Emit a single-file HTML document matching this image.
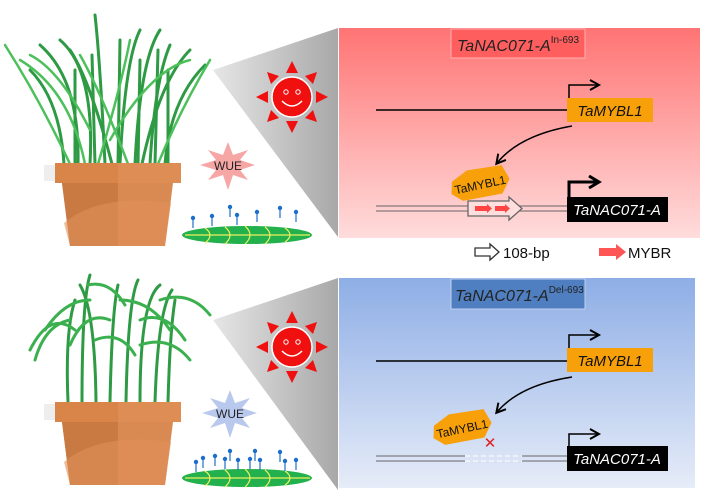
<!DOCTYPE html>
<html><head><meta charset="utf-8"><style>
html,body{margin:0;padding:0;background:#fff;width:705px;height:502px;overflow:hidden}
svg{display:block;font-family:"Liberation Sans",Arial,sans-serif}
</style></head><body>
<svg width="705" height="502" viewBox="0 0 705 502">
<defs>
<linearGradient id="gr" x1="0" y1="0" x2="0" y2="1"><stop offset="0" stop-color="#ff7474"/><stop offset="1" stop-color="#ffdcdc"/></linearGradient>
<linearGradient id="gb" x1="0" y1="0" x2="0" y2="1"><stop offset="0" stop-color="#8eaee6"/><stop offset="1" stop-color="#e6ecf8"/></linearGradient>
<linearGradient id="gt" x1="0" y1="0" x2="1" y2="0"><stop offset="0" stop-color="#e6e6e6"/><stop offset="1" stop-color="#a8a8a8"/></linearGradient>
<marker id="ah" markerUnits="userSpaceOnUse" markerWidth="14" markerHeight="14" refX="9" refY="6" orient="auto"><path d="M1,1 L10,6 L1,11" fill="none" stroke="#000" stroke-width="2"/></marker>
<marker id="ah2" markerUnits="userSpaceOnUse" markerWidth="16" markerHeight="16" refX="10" refY="7" orient="auto"><path d="M1,1 L11,7 L1,13" fill="none" stroke="#000" stroke-width="3"/></marker>
<g id="sun">
<g fill="#f01010">
<polygon points="0,-36 -6,-24 6,-24"/><polygon points="0,36 -6,24 6,24"/><polygon points="-36,0 -24,-6 -24,6"/><polygon points="36,0 24,-6 24,6"/>
<polygon points="-25,-25 -21,-13 -13,-21"/><polygon points="25,-25 21,-13 13,-21"/><polygon points="-25,25 -21,13 -13,21"/><polygon points="25,25 21,13 13,21"/>
</g>
<circle r="20" fill="#f01010" stroke="#fff" stroke-width="1.5"/>
<circle cx="-6" cy="-5" r="2.2" fill="none" stroke="#fff" stroke-width="1"/><circle cx="6" cy="-5" r="2.2" fill="none" stroke="#fff" stroke-width="1"/>
<path d="M-10,4 Q0,14 10,4" fill="none" stroke="#fff" stroke-width="1.5"/>
</g>
<g id="pot">
<rect x="44" y="2" width="14" height="16" fill="#ddd" opacity="0.5"/>
<polygon points="62,20 173,20 165,83 70,83" fill="#d98a52"/>
<polygon points="62,20 118,20 118,83 70,83" fill="#c97a42"/>
<path d="M64,60 Q100,30 171,40 L165,83 L70,83 Z" fill="#e09058" opacity="0.6"/>
<rect x="55" y="0" width="126" height="20" fill="#d9854a"/>
<rect x="118" y="0" width="63" height="20" fill="#de8d55"/>
</g>
<g id="leafbase">
<ellipse cx="247" cy="0" rx="65" ry="9" fill="#22b14c"/>
<g fill="none" stroke="#f0f060" stroke-width="1.2">
<line x1="185" y1="0" x2="310" y2="0"/>
<path d="M205,-7 Q215,0 205,8"/><path d="M225,-8 Q235,0 225,9"/><path d="M245,-9 Q255,0 245,9"/><path d="M265,-8 Q275,0 265,9"/><path d="M285,-7 Q295,0 285,7"/>
</g>
</g>
<g id="stoma"><line x1="0" y1="0" x2="0" y2="10" stroke="#1b6fc9" stroke-width="1.2"/><circle r="2.2" fill="#1b6fc9"/></g>
</defs>

<!-- top -->
<polygon points="213,70 338,28 338,237" fill="url(#gt)"/>
<rect x="339" y="28" width="361" height="210" fill="url(#gr)"/>
<rect x="451" y="29" width="134" height="29" fill="#ff5e5e" stroke="#ffb0b0"/>
<text x="457" y="51" font-size="16" font-style="italic" fill="#222">TaNAC071-A<tspan font-size="10" dy="-8" font-style="normal">In-693</tspan></text>
<use href="#sun" x="292" y="97"/>
<g fill="none" stroke-linecap="round">
<g stroke="#2e9a44" stroke-width="3">
<path d="M64,164 Q60,100 30,70"/><path d="M78,164 Q80,80 40,45"/><path d="M90,164 Q95,70 60,40"/><path d="M105,164 Q100,60 95,15"/><path d="M120,164 Q125,60 140,30"/><path d="M135,164 Q140,60 160,30"/><path d="M150,164 Q155,80 170,45"/><path d="M165,164 Q170,100 205,65"/><path d="M112,164 Q90,80 70,50"/><path d="M142,164 Q160,80 190,50"/>
<path d="M75,164 L75,70"/><path d="M95,164 L92,55"/><path d="M118,164 L120,40"/><path d="M138,164 L140,60"/><path d="M155,164 L158,50"/><path d="M168,164 L168,70"/>
</g>
<g stroke="#4cc05a" stroke-width="2.5">
<path d="M70,164 Q40,100 5,45"/><path d="M98,164 Q120,90 130,40"/><path d="M128,164 Q100,90 80,55"/><path d="M158,164 Q180,110 210,60"/><path d="M85,164 Q70,90 20,60"/><path d="M110,140 Q150,70 190,60"/><path d="M90,130 Q60,70 30,55"/>
</g>
</g>
<use href="#pot" x="0" y="163"/>
<polygon points="228,142 233,155 248,150 240,160 255,165 240,170 248,180 233,175 228,190 223,175 208,180 216,170 200,165 216,160 208,150 223,155" fill="#f7a6a6"/>
<text x="228" y="170" font-size="12" text-anchor="middle" fill="#222">WUE</text>
<use href="#leafbase" x="0" y="235"/>
<g>
<use href="#stoma" x="193" y="218"/><use href="#stoma" x="212" y="216"/><use href="#stoma" x="230" y="207"/><use href="#stoma" x="237" y="215"/><use href="#stoma" x="257" y="212"/><use href="#stoma" x="280" y="208"/><use href="#stoma" x="296" y="212"/>
</g>
<line x1="376" y1="110" x2="567" y2="110" stroke="#000" stroke-width="1.5"/>
<rect x="567" y="98" width="86" height="24" fill="#f7a00a"/>
<text x="610" y="116" font-size="15" font-style="italic" text-anchor="middle" fill="#111">TaMYBL1</text>
<path d="M569,98 V85 H598" fill="none" stroke="#000" stroke-width="1.5" marker-end="url(#ah)"/>
<path d="M572,126 Q520,135 497,163" fill="none" stroke="#000" stroke-width="1.5" marker-end="url(#ah)"/>
<line x1="376" y1="206" x2="567" y2="206" stroke="#666" stroke-width="1"/>
<line x1="376" y1="211" x2="567" y2="211" stroke="#666" stroke-width="1"/>
<polygon points="468,201 509,201 509,197 522,208.5 509,220 509,216 468,216" fill="#ffdede" stroke="#666" stroke-width="1.3"/>
<polygon points="475,206 487,206 487,204 492,208.5 487,213 487,211 475,211" fill="#f44"/>
<polygon points="495,206 505,206 505,204 510,208.5 505,213 505,211 495,211" fill="#f44"/>
<g transform="rotate(-12 480 184)">
<polygon points="453,176 470,168 505,170 510,185 500,198 460,197 450,188" fill="#f7a00a"/>
<text x="480" y="189" font-size="12" text-anchor="middle" fill="#111">TaMYBL1</text>
</g>
<rect x="567" y="197" width="101" height="25" fill="#000"/>
<text x="617" y="215" font-size="15" font-style="italic" text-anchor="middle" fill="#fff">TaNAC071-A</text>
<path d="M569,197 V182 H598" fill="none" stroke="#000" stroke-width="3" marker-end="url(#ah2)"/>
<polygon points="475,248 490,248 490,244 499,252 490,260 490,256 475,256" fill="#fff" stroke="#333" stroke-width="1.3"/>
<text x="503" y="258" font-size="15" fill="#111">108-bp</text>
<polygon points="599,248 616,248 616,244 626,252 616,260 616,256 599,256" fill="#f55"/>
<text x="628" y="258" font-size="15" fill="#111">MYBR</text>

<!-- bottom -->
<polygon points="213,320 338,278 338,490" fill="url(#gt)"/>
<rect x="339" y="278" width="356" height="210" fill="url(#gb)"/>
<rect x="451" y="279" width="134" height="30" fill="#4f7fc0" stroke="#c0d0ee"/>
<text x="455" y="301" font-size="16" font-style="italic" fill="#222">TaNAC071-A<tspan font-size="10" dy="-8" font-style="normal">Del-693</tspan></text>
<use href="#sun" x="292" y="347"/>
<g fill="none" stroke-linecap="round">
<g stroke="#2e9a44" stroke-width="3">
<path d="M68,402 Q65,330 75,300"/><path d="M82,402 Q82,300 90,275"/><path d="M96,402 Q95,310 80,285"/><path d="M110,402 Q112,310 118,285"/><path d="M126,402 Q128,300 138,280"/><path d="M140,402 Q140,300 160,285"/><path d="M155,402 Q158,310 172,290"/><path d="M168,402 Q170,330 175,300"/>
</g>
<g stroke="#3bb04e" stroke-width="3">
<path d="M75,330 Q50,310 30,350"/><path d="M90,300 Q65,300 45,330"/><path d="M110,320 Q85,310 70,345"/><path d="M120,300 Q150,300 170,330"/><path d="M140,320 Q165,310 185,340"/><path d="M160,300 Q190,290 210,315"/><path d="M95,340 Q120,330 135,355"/><path d="M140,345 Q170,335 190,360"/><path d="M88,285 Q110,280 125,305"/><path d="M70,320 Q45,325 35,360"/>
</g>
</g>
<use href="#pot" x="0" y="402"/>
<polygon points="230,390 235,403 250,398 242,408 257,413 242,418 250,428 235,423 230,438 225,423 210,428 218,418 202,413 218,408 210,398 225,403" fill="#b9c9ee"/>
<text x="230" y="418" font-size="12" text-anchor="middle" fill="#222">WUE</text>
<use href="#leafbase" x="0" y="478"/>
<g>
<use href="#stoma" x="196" y="462"/><use href="#stoma" x="203" y="458"/><use href="#stoma" x="215" y="456"/><use href="#stoma" x="225" y="459"/><use href="#stoma" x="230" y="451"/><use href="#stoma" x="238" y="460"/><use href="#stoma" x="250" y="459"/><use href="#stoma" x="255" y="451"/><use href="#stoma" x="260" y="460"/><use href="#stoma" x="280" y="452"/><use href="#stoma" x="285" y="461"/><use href="#stoma" x="296" y="460"/>
</g>
<line x1="376" y1="361" x2="567" y2="361" stroke="#000" stroke-width="1.5"/>
<rect x="567" y="348" width="86" height="24" fill="#f7a00a"/>
<text x="610" y="366" font-size="15" font-style="italic" text-anchor="middle" fill="#111">TaMYBL1</text>
<path d="M569,348 V335 H598" fill="none" stroke="#000" stroke-width="1.5" marker-end="url(#ah)"/>
<path d="M572,377 Q520,385 497,412" fill="none" stroke="#000" stroke-width="1.5" marker-end="url(#ah)"/>
<g stroke="#666" stroke-width="1">
<line x1="376" y1="456" x2="465" y2="456"/><line x1="376" y1="461" x2="465" y2="461"/>
<line x1="465" y1="456" x2="522" y2="456" stroke="#fff" stroke-dasharray="5,3"/><line x1="465" y1="461" x2="522" y2="461" stroke="#fff" stroke-dasharray="5,3"/>
<line x1="522" y1="456" x2="567" y2="456"/><line x1="522" y1="461" x2="567" y2="461"/>
</g>
<g transform="rotate(-12 462 428)">
<polygon points="435,420 452,412 487,414 492,429 482,442 442,441 432,432" fill="#f7a00a"/>
<text x="462" y="433" font-size="12" text-anchor="middle" fill="#111">TaMYBL1</text>
</g>
<text x="490" y="448" font-size="15" fill="#e02020" text-anchor="middle">✕</text>
<rect x="567" y="446" width="101" height="25" fill="#000"/>
<text x="617" y="464" font-size="15" font-style="italic" text-anchor="middle" fill="#fff">TaNAC071-A</text>
<path d="M569,446 V434 H598" fill="none" stroke="#000" stroke-width="1.5" marker-end="url(#ah)"/>
</svg>
</body></html>
